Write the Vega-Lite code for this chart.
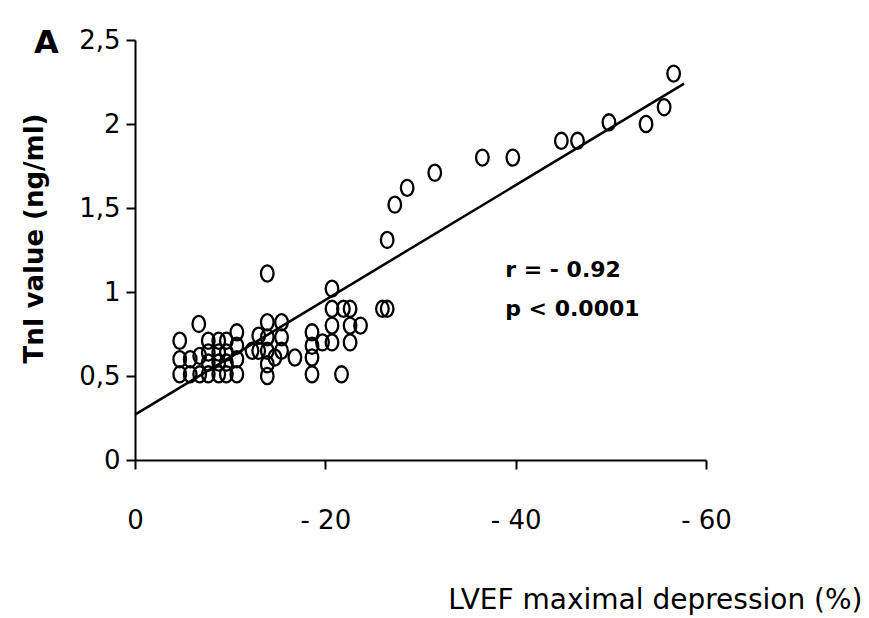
{
  "$schema": "https://vega.github.io/schema/vega-lite/v6.json",
  "width": 571,
  "height": 420,
  "autosize": {"type": "none"},
  "padding": {"left": 135, "top": 40, "right": 163, "bottom": 158},
  "background": "white",
  "config": {"view": {"stroke": null}, "font": "DejaVu Sans"},
  "datasets": {
    "pts": [
      {"x": -4.7, "y": 0.71}, {"x": -4.7, "y": 0.60}, {"x": -4.7, "y": 0.51},
      {"x": -5.8, "y": 0.60}, {"x": -5.8, "y": 0.51},
      {"x": -6.7, "y": 0.81}, {"x": -6.8, "y": 0.62}, {"x": -6.8, "y": 0.51},
      {"x": -7.7, "y": 0.71}, {"x": -7.7, "y": 0.64}, {"x": -7.7, "y": 0.58}, {"x": -7.7, "y": 0.51},
      {"x": -8.8, "y": 0.71}, {"x": -8.8, "y": 0.64}, {"x": -8.8, "y": 0.58}, {"x": -8.8, "y": 0.51},
      {"x": -9.6, "y": 0.71}, {"x": -9.6, "y": 0.64}, {"x": -9.6, "y": 0.58}, {"x": -9.6, "y": 0.51},
      {"x": -10.7, "y": 0.76}, {"x": -10.7, "y": 0.68}, {"x": -10.7, "y": 0.60}, {"x": -10.7, "y": 0.51},
      {"x": -12.3, "y": 0.65}, {"x": -13.0, "y": 0.74}, {"x": -13.0, "y": 0.65},
      {"x": -13.9, "y": 1.11}, {"x": -13.9, "y": 0.82}, {"x": -13.9, "y": 0.73}, {"x": -13.9, "y": 0.65}, {"x": -13.9, "y": 0.57}, {"x": -13.9, "y": 0.50},
      {"x": -14.7, "y": 0.61},
      {"x": -15.4, "y": 0.82}, {"x": -15.4, "y": 0.73}, {"x": -15.4, "y": 0.65},
      {"x": -16.8, "y": 0.61},
      {"x": -18.6, "y": 0.76}, {"x": -18.6, "y": 0.68}, {"x": -18.6, "y": 0.61}, {"x": -18.6, "y": 0.51},
      {"x": -19.7, "y": 0.70},
      {"x": -20.7, "y": 1.02}, {"x": -20.7, "y": 0.90}, {"x": -20.7, "y": 0.80}, {"x": -20.7, "y": 0.70},
      {"x": -21.9, "y": 0.90}, {"x": -21.7, "y": 0.51},
      {"x": -22.6, "y": 0.90}, {"x": -22.6, "y": 0.80}, {"x": -22.6, "y": 0.70},
      {"x": -23.7, "y": 0.80},
      {"x": -26.0, "y": 0.90}, {"x": -26.5, "y": 0.90},
      {"x": -26.5, "y": 1.31}, {"x": -27.3, "y": 1.52}, {"x": -28.6, "y": 1.62}, {"x": -31.5, "y": 1.71},
      {"x": -36.5, "y": 1.80}, {"x": -39.7, "y": 1.80}, {"x": -44.8, "y": 1.90}, {"x": -46.5, "y": 1.90},
      {"x": -49.8, "y": 2.01}, {"x": -53.7, "y": 2.00}, {"x": -55.6, "y": 2.10}, {"x": -56.6, "y": 2.30}
    ],
    "fit": [
      {"x": 0, "y": 0.27},
      {"x": -57.7, "y": 2.24}
    ],
    "notes": [
      {"x": -38.9, "y": 1.13, "label": "r = - 0.92"},
      {"x": -38.9, "y": 0.90, "label": "p < 0.0001"}
    ],
    "panel": [
      {"x": 9.3, "y": 2.48, "label": "A"}
    ]
  },
  "encoding": {
    "x": {
      "field": "x",
      "type": "quantitative",
      "scale": {"domain": [-60, 0], "reverse": true, "nice": false, "zero": false},
      "axis": {
        "title": "LVEF maximal depression (%)",
        "values": [0, -20, -40, -60],
        "labelExpr": "datum.value == 0 ? '0' : '- ' + abs(datum.value)",
        "labelFlush": false,
        "labelOverlap": false,
        "grid": false,
        "domainColor": "black",
        "domainWidth": 2,
        "tickColor": "black",
        "tickWidth": 2,
        "tickSize": 9,
        "labelFontSize": 26,
        "labelColor": "black",
        "labelPadding": 38,
        "titleFontSize": 28,
        "titleFontWeight": "normal",
        "titleColor": "black",
        "titleX": 727,
        "titleY": 140,
        "titleAlign": "right",
        "titleBaseline": "middle"
      }
    },
    "y": {
      "field": "y",
      "type": "quantitative",
      "scale": {"domain": [0, 2.5], "nice": false},
      "axis": {
        "title": "TnI value (ng/ml)",
        "values": [0, 0.5, 1, 1.5, 2, 2.5],
        "labelExpr": "replace('' + datum.value, '.', ',')",
        "labelOverlap": false,
        "grid": false,
        "domainColor": "black",
        "domainWidth": 2,
        "tickColor": "black",
        "tickWidth": 2,
        "tickSize": 9,
        "labelFontSize": 26,
        "labelColor": "black",
        "labelPadding": 6,
        "titleFontSize": 26,
        "titleFontWeight": "bold",
        "titleColor": "black",
        "titleAngle": 270,
        "titleX": -101,
        "titleY": 198,
        "titleAlign": "center",
        "titleBaseline": "middle"
      }
    }
  },
  "layer": [
    {
      "data": {"name": "fit"},
      "mark": {"type": "line", "color": "black", "strokeWidth": 2.5}
    },
    {
      "data": {"name": "pts"},
      "mark": {"type": "point", "shape": "M -0.78 0 A 0.78 1 0 1 0 0.78 0 A 0.78 1 0 1 0 -0.78 0 Z", "filled": false, "stroke": "black", "strokeWidth": 2.3, "size": 260, "opacity": 1}
    },
    {
      "data": {"name": "notes"},
      "mark": {"type": "text", "align": "left", "baseline": "middle", "fontSize": 22, "fontWeight": "bold", "color": "black"},
      "encoding": {"text": {"field": "label"}}
    },
    {
      "data": {"name": "panel"},
      "mark": {"type": "text", "align": "center", "baseline": "middle", "fontSize": 32, "fontWeight": "bold", "color": "black"},
      "encoding": {"text": {"field": "label"}}
    }
  ]
}
